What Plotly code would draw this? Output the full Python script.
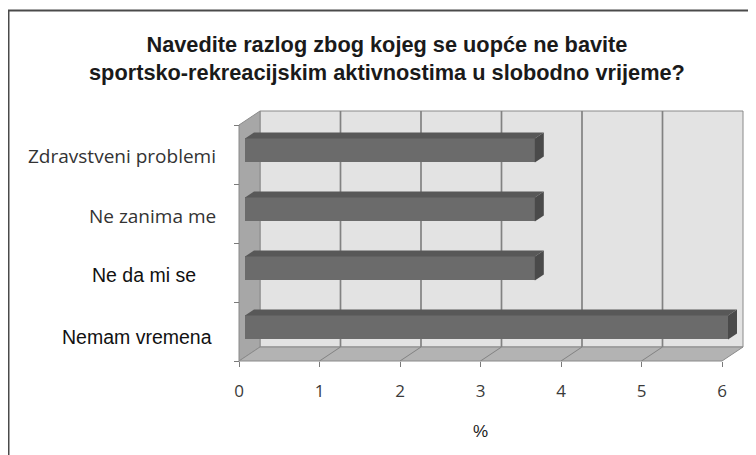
import plotly.graph_objects as go

# ---------------- data ----------------
categories = ["Zdravstveni problemi", "Ne zanima me", "Ne da mi se", "Nemam vremena"]
values = [3.6, 3.6, 3.6, 6.0]
x_ticks = [0, 1, 2, 3, 4, 5, 6]
x_title = "%"
title_lines = ["Navedite razlog zbog kojeg se uopće ne bavite",
               "sportsko-rekreacijskim aktivnostima u slobodno vrijeme?"]

# ---------------- geometry / style ----------------
OFF = 8                      # page body margin compensation
W, H = 756 - OFF, 455 - OFF  # figure size
PX_X0, PX_PER_X = 239.0 - OFF, 80.5   # front x=0 pixel and px per unit
PX_Y0, PX_PER_Y = 361.0 - OFF, 59.0   # front y=0 pixel and px per category
DX = 21.0 / PX_PER_X              # depth offset (x) in data units
DY = 14.0 / PX_PER_Y              # depth offset (y) in data units
F0, F1 = 6.0 / 21.0, 15.0 / 21.0  # bar depth fractions
HALF = 12.0 / PX_PER_Y            # half bar thickness
XMAX = max(x_ticks)
NCAT = len(categories)

xa, xb = -0.06, XMAX + DX + 0.05
ya, yb = -0.06, NCAT + DY + 0.05
dom_x = [(PX_X0 + xa * PX_PER_X) / W, (PX_X0 + xb * PX_PER_X) / W]
dom_y = [1 - (PX_Y0 - ya * PX_PER_Y) / H, 1 - (PX_Y0 - yb * PX_PER_Y) / H]

EDGE = "#8a8a8a"
GRID = "#828282"
BACK = "#e3e3e3"
LEFTW = "#a7a7a7"
FLOOR = "#b3b3b3"
BAR_FRONT = "#6b6b6b"
BAR_TOP = "#585858"
BAR_SIDE = "#4a4a4a"

label_fonts = ["Open Sans", "Open Sans", "Liberation Sans", "Liberation Sans"]
label_sizes = [19, 19, 19.5, 19.5]
label_colors = ["#333333", "#333333", "#111111", "#111111"]
label_right_px = [218, 218, 198, 214]
label_mid_px = [156, 215.5, 275, 337]
title_center_px = (387, 58)


def px(p):
    return p - OFF


# category centres (top to bottom)
centers = [NCAT - 0.5 - i for i in range(NCAT)]


def path(pts):
    return "M " + " L ".join(f"{x},{y}" for x, y in pts) + " Z"


shapes = []
# back wall
shapes.append(dict(type="rect", xref="x", yref="y", x0=DX, x1=XMAX + DX, y0=DY, y1=NCAT + DY,
                   fillcolor=BACK, line=dict(color=EDGE, width=1), layer="below"))
# left wall
shapes.append(dict(type="path", xref="x", yref="y",
                   path=path([(0, 0), (0, NCAT), (DX, NCAT + DY), (DX, DY)]),
                   fillcolor=LEFTW, line=dict(color=EDGE, width=1), layer="below"))
# floor
shapes.append(dict(type="path", xref="x", yref="y",
                   path=path([(0, 0), (XMAX, 0), (XMAX + DX, DY), (DX, DY)]),
                   fillcolor=FLOOR, line=dict(color=EDGE, width=1), layer="below"))
# gridlines on back wall and floor
for k in x_ticks[1:-1]:
    shapes.append(dict(type="line", xref="x", yref="y", x0=k + DX, x1=k + DX, y0=DY, y1=NCAT + DY,
                       line=dict(color=GRID, width=1.7), layer="below"))
    shapes.append(dict(type="line", xref="x", yref="y", x0=k, x1=k + DX, y0=0, y1=DY,
                       line=dict(color=GRID, width=1), layer="below"))

# bar top and side faces (derived from the values)
for c, v in zip(centers, values):
    top_front = c + HALF + F0 * DY
    top_back = c + HALF + F1 * DY
    bot_front = c - HALF + F0 * DY
    bot_back = c - HALF + F1 * DY
    shapes.append(dict(type="path", xref="x", yref="y",
                       path=path([(F0 * DX, top_front), (F0 * DX + v, top_front),
                                  (F1 * DX + v, top_back), (F1 * DX, top_back)]),
                       fillcolor=BAR_TOP, line=dict(width=0), layer="above"))
    shapes.append(dict(type="path", xref="x", yref="y",
                       path=path([(F0 * DX + v, bot_front), (F0 * DX + v, top_front),
                                  (F1 * DX + v, top_back), (F1 * DX + v, bot_back)]),
                       fillcolor=BAR_SIDE, line=dict(width=0), layer="above"))

# outer frame
shapes.append(dict(type="rect", xref="paper", yref="paper",
                   x0=px(8.5) / W, x1=1.2, y0=-0.2, y1=1 - px(10.5) / H,
                   fillcolor="rgba(0,0,0,0)", line=dict(color="#4a4a4a", width=2)))

fig = go.Figure()
fig.add_trace(go.Bar(
    orientation="h",
    x=values,
    y=[c + F0 * DY for c in centers],
    base=F0 * DX,
    width=2 * HALF,
    marker=dict(color=BAR_FRONT, line=dict(width=0)),
    hoverinfo="skip",
    showlegend=False,
))

annotations = []
# title (one text, two lines)
annotations.append(dict(text="<b>" + "<br>".join(title_lines) + "</b>", xref="paper", yref="paper",
                        x=px(title_center_px[0]) / W, y=1 - px(title_center_px[1]) / H,
                        xanchor="center", yanchor="middle", align="center", showarrow=False,
                        font=dict(family="Liberation Sans", size=21.75, color="#1a1a1a")))
# category labels
for i, cat in enumerate(categories):
    annotations.append(dict(text=cat, xref="paper", yref="paper",
                            x=px(label_right_px[i]) / W, y=1 - px(label_mid_px[i]) / H,
                            xanchor="right", yanchor="middle", showarrow=False,
                            font=dict(family=label_fonts[i], size=label_sizes[i], color=label_colors[i])))
# axis title
annotations.append(dict(text=x_title, xref="paper", yref="paper",
                        x=(PX_X0 + 3 * PX_PER_X) / W, y=1 - px(431) / H,
                        xanchor="center", yanchor="middle", showarrow=False,
                        font=dict(family="Liberation Sans", size=17, color="#1a1a1a")))

fig.update_layout(
    width=W, height=H,
    margin=dict(l=0, r=0, t=0, b=0),
    paper_bgcolor="white",
    plot_bgcolor="rgba(0,0,0,0)",
    shapes=shapes,
    annotations=annotations,
    bargap=0,
    xaxis=dict(domain=dom_x, range=[xa, xb], anchor="free", position=1 - PX_Y0 / H,
               showgrid=False, zeroline=False, showline=False,
               tickmode="array", tickvals=x_ticks, ticktext=[str(t) for t in x_ticks],
               ticks="outside", ticklen=5, tickwidth=1, tickcolor="#7a7a7a",
               tickfont=dict(family="Open Sans", size=17, color="#3a3a3a"),
               ticklabelstandoff=10, fixedrange=True),
    yaxis=dict(domain=dom_y, range=[ya, yb], anchor="free", position=PX_X0 / W,
               showgrid=False, zeroline=False, showline=False,
               tickmode="array", tickvals=list(range(NCAT + 1)),
               ticks="outside", ticklen=5, tickwidth=1, tickcolor="#7a7a7a",
               showticklabels=False, fixedrange=True),
)

fig.write_html("out.html")
